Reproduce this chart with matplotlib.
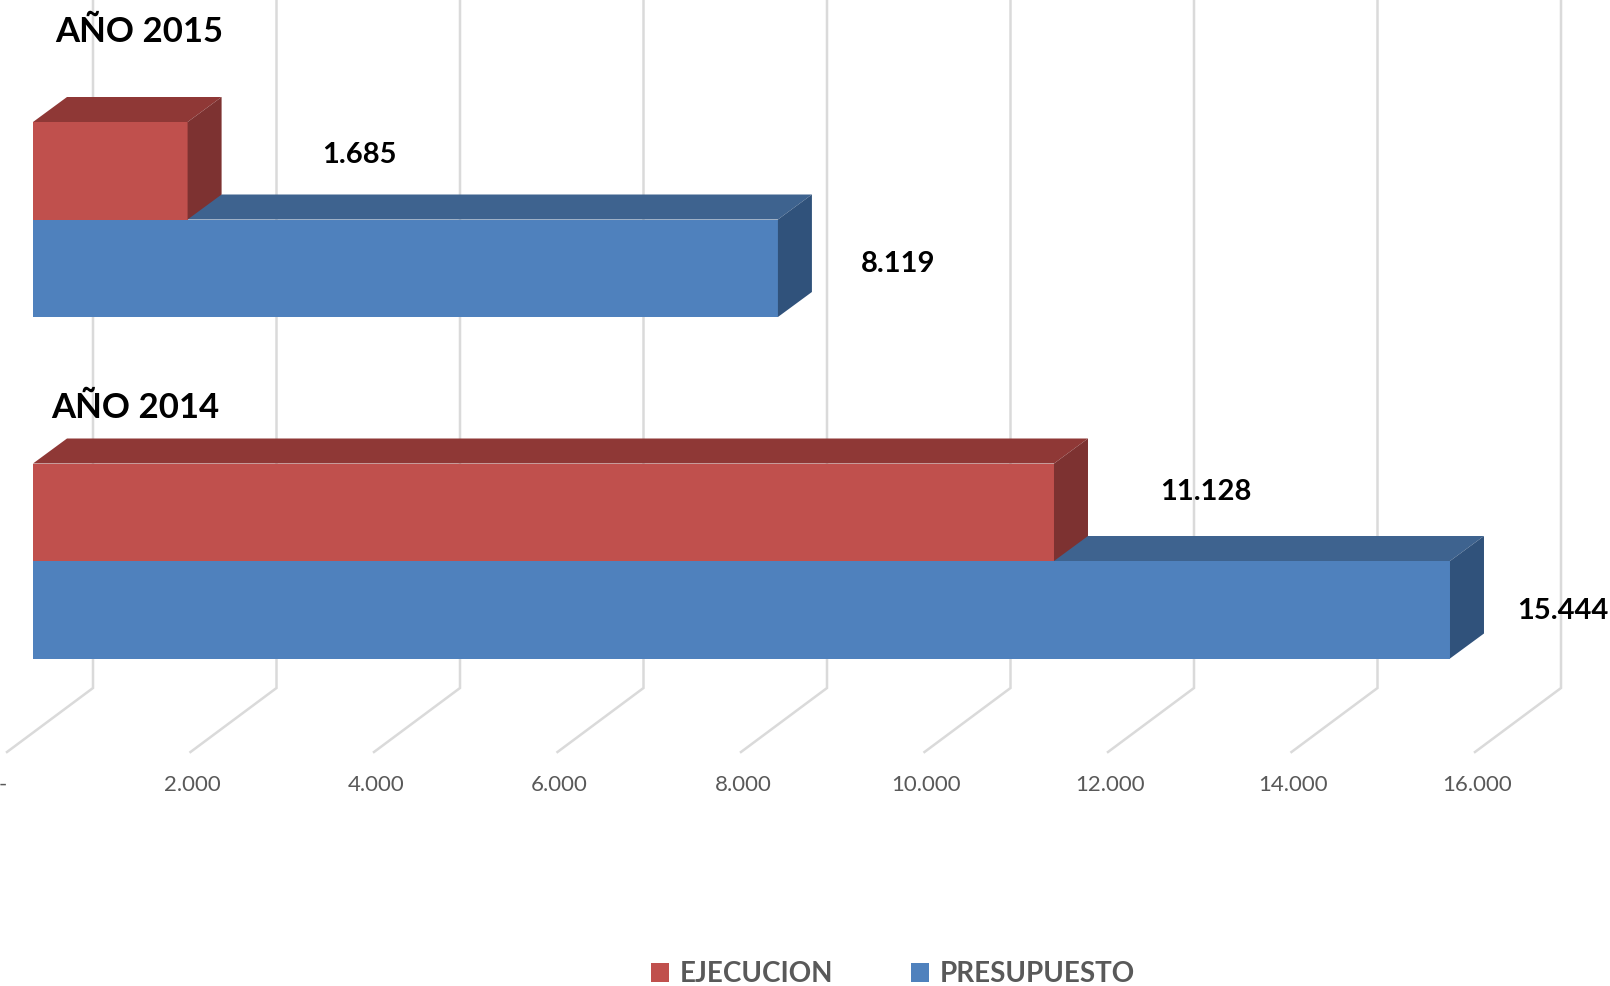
import matplotlib
matplotlib.use('Agg')
import matplotlib.pyplot as plt
from matplotlib.patches import Polygon, Patch
from matplotlib.transforms import Affine2D

plt.rcParams['font.family'] = ['Lato', 'DejaVu Sans']

categories = ['AÑO 2014', 'AÑO 2015']
presupuesto = [15444, 8119]
ejecucion = [11128, 1685]
ticks = [0, 2000, 4000, 6000, 8000, 10000, 12000, 14000, 16000]
tick_labels = ['-', '2.000', '4.000', '6.000', '8.000', '10.000', '12.000', '14.000', '16.000']

W, H = 1610, 986
PX_PER_X = 183.5 / 2000   # pixels per budget unit
PX_PER_Y = 341.5          # pixels between the two categories
X0_PX = 33                # where value 0 sits on the bar front
Y0_PX = 561               # where category 0 sits
BAR_H = 97.5 / PX_PER_Y


def dx(px):
    return px / PX_PER_X


def dy(px):
    return px / PX_PER_Y


fig = plt.figure(figsize=(W / 100, H / 100), dpi=100, facecolor='white')
ax = fig.add_axes([0, 0, 1, 1])
ax.set_xlim(-X0_PX / PX_PER_X, (W - X0_PX) / PX_PER_X)
ax.set_ylim(-(H - Y0_PX) / PX_PER_Y, Y0_PX / PX_PER_Y)
ax.axis('off')

# screen pixels, top left origin, for the free standing texts
px = Affine2D().scale(1 / W, -1 / H).translate(0, 1) + fig.transFigure

# walls and floor
top_y = Y0_PX / PX_PER_Y
wall_y = -(688 - Y0_PX) / PX_PER_Y
for t, lab in zip(ticks, tick_labels):
    ax.plot([t + dx(60), t + dx(60), t - dx(26)], [top_y, wall_y, wall_y - dy(64)],
            color='#DADADA', lw=1.8, zorder=1, solid_joinstyle='miter')
    # the dash of the zero label sits further left than the numbers
    shift = 30 if t == 0 else 24
    ax.text(t - dx(shift), wall_y - dy(97), lab, ha='center', va='center',
            fontsize=16, color='#595959', zorder=5)


def bar3d(value, y0, front, top, side):
    ax.barh(y0 + BAR_H / 2, value, height=BAR_H, left=0, color=front, zorder=3, linewidth=0)
    d_x, d_y = dx(34), dy(25)
    ax.add_patch(Polygon([(0, y0 + BAR_H), (value, y0 + BAR_H),
                          (value + d_x, y0 + BAR_H + d_y), (d_x, y0 + BAR_H + d_y)],
                         closed=True, fc=top, ec='none', zorder=3))
    ax.add_patch(Polygon([(value, y0), (value + d_x, y0 + d_y),
                          (value + d_x, y0 + BAR_H + d_y), (value, y0 + BAR_H)],
                         closed=True, fc=side, ec='none', zorder=3))


for i in range(len(categories)):
    bar3d(presupuesto[i], i - BAR_H, '#4F81BD', '#3E638F', '#30527B')
    bar3d(ejecucion[i], i, '#C0504D', '#8F3836', '#7D3231')

# value labels and category names
label_pos = {1685: (359, 155), 8119: (898, 264), 11128: (1206, 492), 15444: (1563, 611)}
for v, (x, y) in label_pos.items():
    txt = f'{v:,}'.replace(',', '.')
    ax.text(x, y, txt, transform=px, ha='center', va='center', fontsize=21,
            fontweight='bold', color='black', zorder=6)
ax.text(139, 32, categories[1], transform=px, ha='center', va='center', fontsize=25,
        fontweight='bold', color='black', zorder=6)
ax.text(135, 408, categories[0], transform=px, ha='center', va='center', fontsize=25,
        fontweight='bold', color='black', zorder=6)

handles = [Patch(fc='#C0504D', ec='none', label='EJECUCION'),
           Patch(fc='#4F81BD', ec='none', label='PRESUPUESTO')]
leg = ax.legend(handles=handles, ncol=2, frameon=False, loc='center', bbox_to_anchor=(893 / W, 1 - 974 / H),
                prop={'size': 20, 'weight': 'bold'}, labelcolor='#595959',
                handlelength=0.65, handleheight=0.65, handletextpad=0.38, columnspacing=2.8)

fig.savefig('out.png', dpi=100)
